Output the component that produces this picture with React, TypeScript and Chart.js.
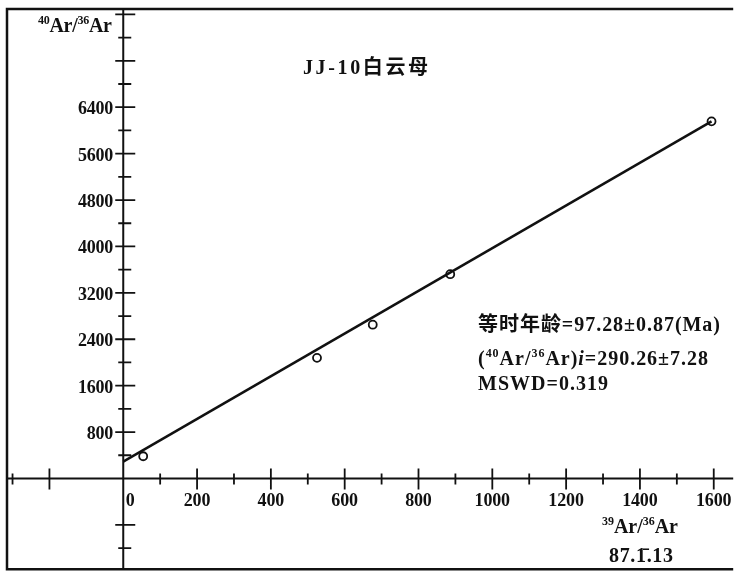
import { useEffect, useRef } from "react";
import { Chart, registerables } from "chart.js";
Chart.register(...registerables);

// ---- data ----
const sampleX = [54, 525, 676, 886, 1594];
const sampleY = [383, 2079, 2651, 3522, 6156];
const fitLineX = [0, 1594];
const fitLineY = [290, 6156];

const xTickLabels = [0, 200, 400, 600, 800, 1000, 1200, 1400, 1600];
const xMajorTicks = [-200, 200, 400, 600, 800, 1000, 1200, 1400, 1600];
const xMinorTicks = [-300, 100, 300, 500, 700, 900, 1100, 1300, 1500];
const yTickLabels = [800, 1600, 2400, 3200, 4000, 4800, 5600, 6400];
const yMajorTicks = [-800, 800, 1600, 2400, 3200, 4000, 4800, 5600, 6400, 7200, 8000];
const yMinorTicks = [-1200, 400, 1200, 2000, 2800, 3600, 4400, 5200, 6000, 6800, 7600];

const titleText = "JJ-10白云母";
const ageLine = "等时年龄=97.28±0.87(Ma)";
const initialValue = "=290.26±7.28";
const mswdLine = "MSWD=0.319";
const dateText = "87.1\u0304.13";

type Part = { t: string; sup?: boolean; it?: boolean };

const FONT_FAMILY = "'Liberation Serif', 'Noto Sans CJK SC', serif";

function splitGraphemes(s: string): string[] {
  const out: string[] = [];
  for (const ch of Array.from(s)) {
    if (/[\u0300-\u036f]/.test(ch) && out.length) out[out.length - 1] += ch;
    else out.push(ch);
  }
  return out;
}

function drawRich(
  ctx: CanvasRenderingContext2D,
  parts: Part[],
  x: number,
  baseline: number,
  size: number,
  targetW: number
) {
  const fontFor = (p: Part) =>
    `${p.it ? "italic " : ""}bold ${p.sup ? Math.round(size * 0.58) : size}px ${FONT_FAMILY}`;
  const glyphs: { g: string; p: Part; w: number }[] = [];
  let natural = 0;
  for (const p of parts) {
    ctx.font = fontFor(p);
    for (const g of splitGraphemes(p.t)) {
      const w = ctx.measureText(g).width;
      glyphs.push({ g, p, w });
      natural += w;
    }
  }
  const ls = glyphs.length > 1 ? (targetW - natural) / (glyphs.length - 1) : 0;
  let cx = x;
  ctx.textAlign = "left";
  ctx.textBaseline = "alphabetic";
  for (const gl of glyphs) {
    ctx.font = fontFor(gl.p);
    ctx.fillText(gl.g, cx, gl.p.sup ? baseline - size * 0.4 : baseline);
    cx += gl.w + ls;
  }
}

const axesPlugin = {
  id: "crossAxes",
  beforeDatasetsDraw(chart: any) {
    const ctx: CanvasRenderingContext2D = chart.ctx;
    const xs = chart.scales.x;
    const ys = chart.scales.y;
    const area = chart.chartArea;
    const x0 = xs.getPixelForValue(0);
    const y0 = ys.getPixelForValue(0);
    ctx.save();
    ctx.strokeStyle = "#111";
    ctx.fillStyle = "#111";
    ctx.lineCap = "butt";

    // frame
    ctx.lineWidth = 2.5;
    ctx.beginPath();
    ctx.moveTo(area.right + 1, area.top);
    ctx.lineTo(area.left, area.top);
    ctx.lineTo(area.left, area.bottom);
    ctx.lineTo(area.right + 1, area.bottom);
    ctx.stroke();

    // axes
    ctx.lineWidth = 2;
    ctx.beginPath();
    ctx.moveTo(area.left, y0);
    ctx.lineTo(area.right + 1, y0);
    ctx.moveTo(x0, area.top);
    ctx.lineTo(x0, area.bottom);
    ctx.stroke();

    // x ticks
    ctx.lineWidth = 1.8;
    ctx.beginPath();
    for (const v of xMajorTicks) {
      const px = xs.getPixelForValue(v);
      ctx.moveTo(px, y0 - 10);
      ctx.lineTo(px, y0 + 11);
    }
    for (const v of xMinorTicks) {
      const px = xs.getPixelForValue(v);
      ctx.moveTo(px, y0 - 5);
      ctx.lineTo(px, y0 + 6);
    }
    // y ticks
    for (const v of yMajorTicks) {
      const py = ys.getPixelForValue(v);
      ctx.moveTo(x0 - 8, py);
      ctx.lineTo(x0 + 12, py);
    }
    for (const v of yMinorTicks) {
      const py = ys.getPixelForValue(v);
      ctx.moveTo(x0 - 5, py);
      ctx.lineTo(x0 + 8, py);
    }
    ctx.stroke();

    // tick labels
    for (const v of xTickLabels) {
      const s = String(v);
      const w = s.length * 8.9;
      const px = xs.getPixelForValue(v) + (v === 0 ? 7 : 0);
      drawRich(ctx, [{ t: s }], px - w / 2, y0 + 28, 18, w);
    }
    for (const v of yTickLabels) {
      const s = String(v);
      const w = s.length * 8.8;
      const py = ys.getPixelForValue(v);
      drawRich(ctx, [{ t: s }], x0 - 10 - w, py + 7, 18, w);
    }

    // axis titles
    drawRich(
      ctx,
      [{ t: "40", sup: true }, { t: "Ar" }, { t: "/" }, { t: "36", sup: true }, { t: "Ar" }],
      38, 32, 20, 74
    );
    drawRich(
      ctx,
      [{ t: "39", sup: true }, { t: "Ar" }, { t: "/" }, { t: "36", sup: true }, { t: "Ar" }],
      602, 533, 20, 76
    );
    drawRich(ctx, [{ t: dateText }], 609, 562, 20, 64);

    // title and annotations
    drawRich(ctx, [{ t: titleText }], 303, 74, 20, 125);
    drawRich(ctx, [{ t: ageLine }], 478, 331, 20, 242);
    drawRich(
      ctx,
      [
        { t: "(" },
        { t: "40", sup: true },
        { t: "Ar/" },
        { t: "36", sup: true },
        { t: "Ar)" },
        { t: "i", it: true },
        { t: initialValue },
      ],
      478, 365, 20, 230
    );
    drawRich(ctx, [{ t: mswdLine }], 478, 390, 20, 130);
    ctx.restore();
  },
};

export default function App() {
  const ref = useRef<HTMLCanvasElement | null>(null);
  useEffect(() => {
    document.body.style.margin = "0";
    const canvas = ref.current!;
    const chart = new Chart(canvas, {
      type: "scatter",
      data: {
        datasets: [
          {
            label: "isochron",
            data: fitLineX.map((x, i) => ({ x, y: fitLineY[i] })),
            showLine: true,
            borderColor: "#111",
            borderWidth: 2.5,
            pointRadius: 0,
            fill: false,
          },
          {
            label: "samples",
            data: sampleX.map((x, i) => ({ x, y: sampleY[i] })),
            showLine: false,
            pointStyle: "circle",
            pointRadius: 4,
            pointBorderWidth: 1.8,
            pointBorderColor: "#111",
            pointBackgroundColor: "#fff",
          },
        ],
      },
      options: {
        animation: false,
        responsive: false,
        devicePixelRatio: 1,
        layout: { padding: { left: 7, top: 9, right: 1, bottom: 4 } },
        plugins: { legend: { display: false }, tooltip: { enabled: false } },
        scales: {
          x: { type: "linear", min: -315, max: 1650, display: false },
          y: { type: "linear", min: -1564, max: 8093, display: false },
        },
      },
      plugins: [axesPlugin],
    });
    return () => chart.destroy();
  }, []);
  return (
    <div style={{ position: "fixed", left: 0, top: 0, width: 738, height: 575, background: "#fff" }}>
      <canvas ref={ref} width={738} height={575} style={{ display: "block" }} />
    </div>
  );
}
